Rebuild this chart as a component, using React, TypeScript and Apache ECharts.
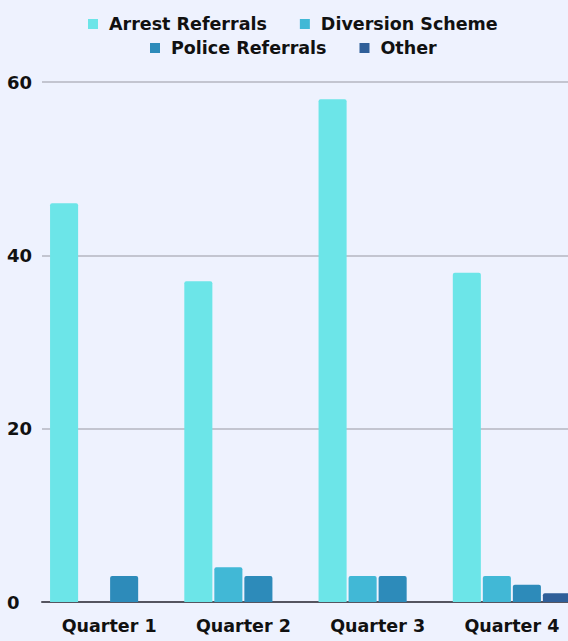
import React, { useEffect, useRef } from "react";
import * as echarts from "echarts";

const categories = ["Quarter 1", "Quarter 2", "Quarter 3", "Quarter 4"];
const arrestReferrals = [46, 37, 58, 38];
const diversionScheme = [0, 4, 3, 3];
const policeReferrals = [3, 3, 3, 2];
const other = [0, 0, 0, 1];
const seriesNames = ["Arrest Referrals", "Diversion Scheme", "Police Referrals", "Other"];
const colors = ["#6ce5e8", "#41b8d6", "#2d8bba", "#2f5f99"];

export default function App() {
  const ref = useRef<HTMLDivElement>(null);
  useEffect(() => {
    const chart = echarts.init(ref.current!, null, { renderer: "svg" });
    const font = "'DejaVu Sans', sans-serif";
    const legendText = {
      color: "#111",
      fontSize: 17.5,
      fontWeight: "bold",
      fontFamily: font,
      padding: [0, 0, 0, 6],
    };
    const data = [arrestReferrals, diversionScheme, policeReferrals, other];
    chart.setOption({
      animation: false,
      backgroundColor: "#eef2fe",
      legend: [
        {
          data: [seriesNames[0], seriesNames[1]],
          top: 15,
          left: 88,
          padding: 0,
          icon: "rect",
          itemWidth: 10,
          itemHeight: 10,
          itemGap: 33,
          textStyle: legendText,
        },
        {
          data: [seriesNames[2], seriesNames[3]],
          top: 39,
          left: 150,
          padding: 0,
          icon: "rect",
          itemWidth: 10,
          itemHeight: 10,
          itemGap: 33,
          textStyle: legendText,
        },
      ],
      grid: {
        left: 42,
        width: 537,
        top: 82,
        bottom: 39,
        containLabel: false,
        outerBoundsMode: "none",
      },
      xAxis: {
        type: "category",
        data: categories,
        axisTick: { show: false },
        axisLine: { lineStyle: { color: "#555560", width: 2 } },
        axisLabel: { color: "#111", fontSize: 17.5, fontWeight: "bold", fontFamily: font, margin: 15 },
      },
      yAxis: {
        type: "value",
        min: 0,
        max: 60,
        interval: 20,
        axisLine: { show: false },
        axisTick: { show: false },
        splitLine: { lineStyle: { color: "#b4b6c0", width: 1.5 } },
        axisLabel: {
          color: "#111",
          fontSize: 18,
          fontWeight: "bold",
          fontFamily: font,
          align: "left",
          margin: 35,
        },
      },
      series: seriesNames.map((name, i) => ({
        name,
        type: "bar",
        data: data[i],
        barGap: "7%",
        barCategoryGap: "12%",
        itemStyle: { color: colors[i], borderRadius: [2, 2, 0, 0] },
      })),
    });
    return () => chart.dispose();
  }, []);
  return (
    <div
      ref={ref}
      style={{ position: "fixed", left: 0, top: 0, width: 568, height: 641 }}
    />
  );
}
